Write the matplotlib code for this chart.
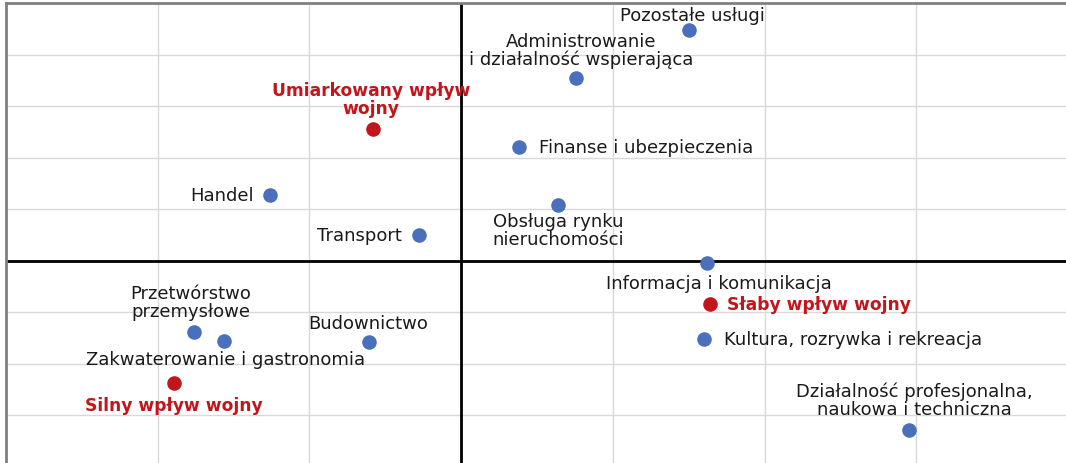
import matplotlib
matplotlib.use("Agg")
import matplotlib.pyplot as plt

# sectors (blue) and reference groups (red)
names = [
    "Pozostałe usługi",
    "Administrowanie\ni działalność wspierająca",
    "Umiarkowany wpływ\nwojny",
    "Finanse i ubezpieczenia",
    "Handel",
    "Obsługa rynku\nnieruchomości",
    "Transport",
    "Informacja i komunikacja",
    "Słaby wpływ wojny",
    "Kultura, rozrywka i rekreacja",
    "Przetwórstwo\nprzemysłowe",
    "Zakwaterowanie i gastronomia",
    "Budownictwo",
    "Silny wpływ wojny",
    "Działalność profesjonalna,\nnaukowa i techniczna",
]
x_vals = [1.50, 0.76, -0.58, 0.38, -1.26, 0.64, -0.28, 1.62, 1.64, 1.60,
          -1.76, -1.56, -0.61, -1.89, 2.95]
y_vals = [4.47, 3.54, 2.55, 2.20, 1.28, 1.07, 0.49, -0.04, -0.84, -1.52,
          -1.38, -1.56, -1.58, -2.37, -3.29]
is_group = [False, False, True, False, False, False, False, False, True, False,
            False, False, False, True, False]

# label placement: (dx, dy) in pixels, horizontal alignment
offsets = [(4, 15), (5, 28), (-2, 30), (20, 0), (-16, 0), (0, -25), (-17, 0),
           (12, -20), (17, 0), (20, 0), (-3, 30), (1, -18), (0, 19), (-1, -22),
           (6, 30)]
aligns = ["center", "center", "center", "left", "right", "center", "right",
          "center", "left", "left", "center", "center", "center", "center",
          "center"]

blue = "#4a6fbb"
red = "#c0161c"

fig = plt.figure(figsize=(10.66, 4.64), dpi=100)
W, H = 1066, 464
left, right, top, bottom = 6, 1068, 4, 519
ax = fig.add_axes([left / W, (H - bottom) / H, (right - left) / W, (bottom - top) / H])
ax.set_xlim(-3, 4)
ax.set_ylim(-5, 5)
ax.set_xticks(range(-3, 5))
ax.set_yticks(range(-5, 6))
ax.tick_params(length=0, labelbottom=False, labelleft=False)
ax.grid(True, color="#d9d9d9", linewidth=1)
ax.set_axisbelow(True)
for side in ["left", "top", "right", "bottom"]:
    ax.spines[side].set_color("#808080")
    ax.spines[side].set_linewidth(2)
ax.axhline(0, color="black", linewidth=2, zorder=1)
ax.axvline(0, color="black", linewidth=2, zorder=1)

for name, x, y, grp, (dx, dy), ha in zip(names, x_vals, y_vals, is_group, offsets, aligns):
    ax.scatter(x, y, s=110, color=red if grp else blue, zorder=3, linewidths=0)
    ax.annotate(
        name, (x, y), xytext=(dx, dy), textcoords="offset pixels",
        ha=ha, va="center", multialignment="center", linespacing=1.0,
        fontsize=12.3 if grp else 13, color=red if grp else "#1a1a1a",
        fontweight="bold" if grp else "normal", zorder=4,
    )

fig.savefig("out.png", dpi=100)
